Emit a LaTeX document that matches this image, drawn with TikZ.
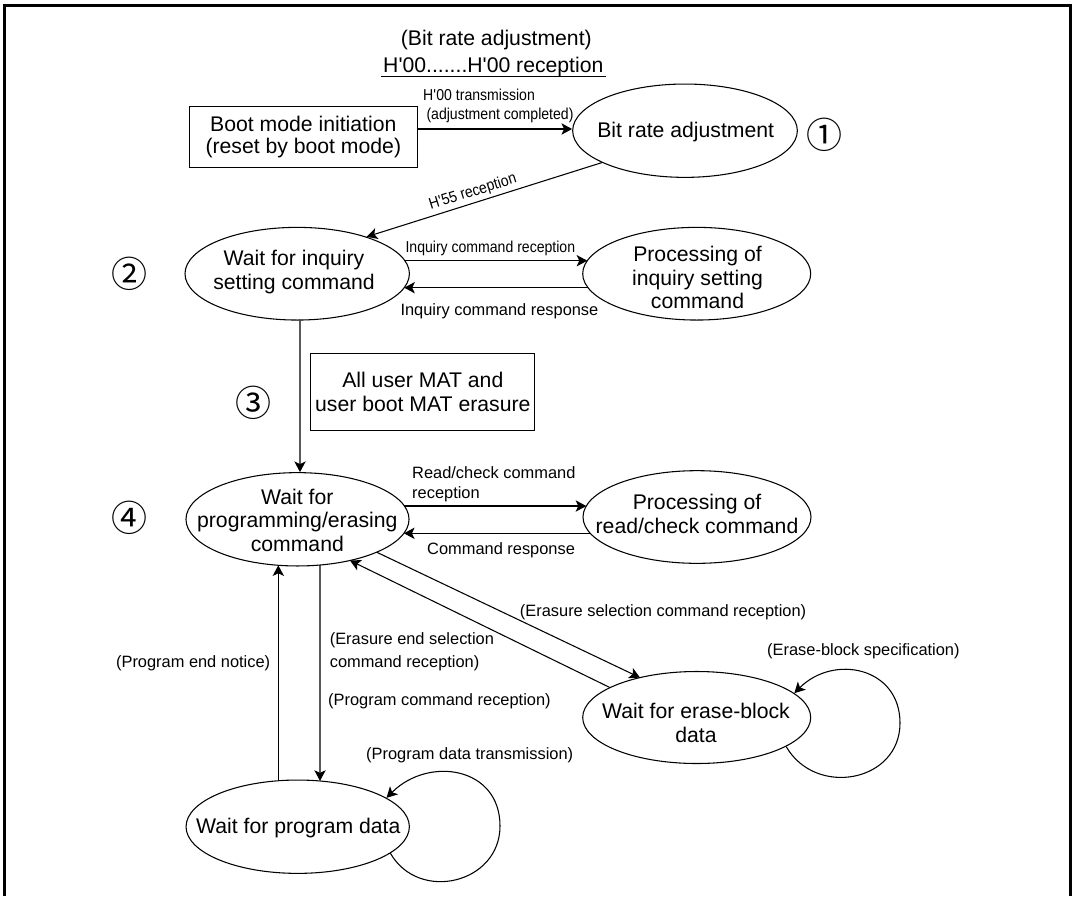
\documentclass[tikz,border=0pt]{standalone}
\usepackage{fontspec}
\setmainfont{Liberation Sans}
\newfontfamily\narrowfont{Liberation Sans}[FakeStretch=0.89]
\newfontfamily\circfont{Noto Sans CJK JP}
\usetikzlibrary{shapes.geometric,arrows.meta}
\newcommand\mainfs{\fontsize{15.9}{17.8}\selectfont}
\newcommand\smallfs{\fontsize{12.3}{17.5}\selectfont}
\newcommand\narrowfs{\narrowfont\fontsize{11.85}{14}\selectfont}
\newcommand\circfs{\circfont\fontsize{27}{28}\selectfont}
\begin{document}
\begin{tikzpicture}[x=0.75pt,y=-0.75pt,
  line width=0.8pt,
  arr/.style={-{Stealth[length=8pt,width=8.5pt,inset=2pt]}},
  st/.style={draw,ellipse,inner sep=0pt},
  box/.style={draw,rectangle,inner sep=0pt,align=center},
  mtxt/.style={align=center,inner sep=0pt,font=\mainfs},
  lab/.style={inner sep=0pt,font=\smallfs},
  nlab/.style={inner sep=0pt,font=\narrowfs},
  circ/.style={inner sep=0pt,font=\circfs}]
\useasboundingbox (0,0) rectangle (1073,896);
% frame
\draw[line width=2.25pt] (4,896) -- (4,5.5) -- (1070,5.5) -- (1070,896);

% title
\node[anchor=base,inner sep=0pt,font=\mainfs] (t1) at (496.3,45.9) {(Bit rate adjustment)};
\node[anchor=base west,inner sep=0pt,font=\mainfs] (t2) at (382.7,72.6) {H\textquotesingle 00.......H\textquotesingle 00 reception};
\draw ([shift={(-1.7,4.1)}]t2.base west) -- ([shift={(1.7,4.1)}]t2.base east);

% boxes
\node[box,minimum width=171pt,minimum height=46pt,font=\fontsize{15.9}{16.3}\selectfont] (boot) at (303.3,136.7) {Boot mode initiation\\(reset by boot mode)};
\node[box,minimum width=168.2pt,minimum height=58pt,font=\fontsize{15.9}{17.5}\selectfont] (mat) at (422.8,392) {All user MAT and\\user boot MAT erasure};

% ellipses
\node[st,minimum width=168.5pt,minimum height=70pt] (bit) at (685,130.7) {};
\node[mtxt] (bitT) at (685.7,131.7) {Bit rate adjustment};
\node[st,minimum width=168.3pt,minimum height=69.5pt] (inq) at (297.2,273.7) {};
\node[mtxt] (inqT) at (294,272) {Wait for inquiry\\setting command};
\node[st,minimum width=171pt,minimum height=69.5pt] (pinq) at (696.7,273.7) {};
\node[mtxt] (pinqT) at (697.5,277.5) {Processing of\\inquiry setting\\command};
\node[st,minimum width=167.3pt,minimum height=70pt] (prog) at (297.5,519.3) {};
\node[mtxt] (progT) at (297.3,520.3) {Wait for\\programming/erasing\\command};
\node[st,minimum width=171pt,minimum height=69.5pt] (rc) at (697,517) {};
\node[mtxt] (rcT) at (697,514) {Processing of\\read/check command};
\node[st,minimum width=171pt,minimum height=69pt] (er) at (696.7,717.5) {};
\node[mtxt] (erT) at (696,723) {Wait for erase-block\\data};
\node[st,minimum width=167.5pt,minimum height=70pt] (pd) at (297.7,826.7) {};
\node[mtxt] (pdT) at (298.3,828.3) {Wait for program data};

% circled numbers
\node[circ] (c1) at (824,135) {①};
\node[circ] (c2) at (129,274) {②};
\node[circ] (c3) at (253.3,403) {③};
\node[circ] (c4) at (129,518) {④};

% connectors
\draw[arr] ([shift={(0,-7.7)}]boot.east) -- ([shift={(0,-1.7)}]bit.west);
\node[nlab,anchor=base west] (l1) at (422.7,100.7) {H\textquotesingle 00 transmission};
\node[nlab,anchor=base west] (l2) at (426,119.7) {(adjustment completed)};

\draw[arr] (bit.201.4) -- node[nlab,sloped,above=2pt,pos=0.535] (l3) {H\textquotesingle 55 reception} (inq.28);

\draw[arr] ([shift={(107.7,-13)}]inq.center) -- ([shift={(-109.4,-13)}]pinq.center);
\node[nlab,anchor=base west] (l4) at (405,252.4) {Inquiry command reception};
\draw[arr] ([shift={(-108.7,14)}]pinq.center) -- ([shift={(107,14)}]inq.center);
\node[lab,anchor=base west] (l5) at (400,315.2) {Inquiry command response};

\draw[arr] ([shift={(2.8,0)}]inq.south) -- ([shift={(2.5,0)}]prog.north);

\draw[arr] ([shift={(106.9,-13.3)}]prog.center) -- ([shift={(-110.7,-11)}]rc.center);
\node[lab,anchor=base west] (l6) at (411.7,478.6) {Read/check command};
\node[lab,anchor=base west] (l7) at (411.7,498.9) {reception};
\draw[arr] ([shift={(-106.7,16.3)}]rc.center) -- ([shift={(106.4,14)}]prog.center);
\node[lab,anchor=base west] (l8) at (426.7,554.2) {Command response};

\draw[arr] ([shift={(79.2,32.9)}]prog.center) -- ([shift={(-56.7,-39.9)}]er.center);
\node[lab,anchor=base east] (l9) at (806.7,616.6) {(Erasure selection command reception)};
\draw[arr] ([shift={(-86.7,-29.9)}]er.center) -- ([shift={(52.5,41.2)}]prog.center);
\node[lab,anchor=base west] (l10) at (329.3,644.2) {(Erasure end selection};
\node[lab,anchor=base west] (l11) at (329.3,667.6) {command reception)};

\draw[arr] ([shift={(-19.4,-46)}]pd.center) -- ([shift={(-19.2,46)}]prog.center);
\node[lab,anchor=base east] (l12) at (270.7,667.6) {(Program end notice)};
\draw[arr] ([shift={(22.5,45.7)}]prog.center) -- ([shift={(22.3,-45.8)}]pd.center);
\node[lab,anchor=base west] (l13) at (327.7,705.2) {(Program command reception)};

\coordinate (eR) at (900,723);
\draw[arr] (er.-18.3) to[out=-60,in=-90,looseness=1.3] (eR) to[out=90,in=45,looseness=1.3] (er.14.2);
\node[lab,anchor=base west] (l14) at (766.7,655.9) {(Erase-block specification)};

\coordinate (pR) at (500,826);
\draw[arr] (pd.-16.2) to[out=-60,in=-90,looseness=1.3] (pR) to[out=90,in=45,looseness=1.3] (pd.18.5);
\node[lab,anchor=base west] (l15) at (365.7,759.9) {(Program data transmission)};
\end{tikzpicture}
\end{document}
